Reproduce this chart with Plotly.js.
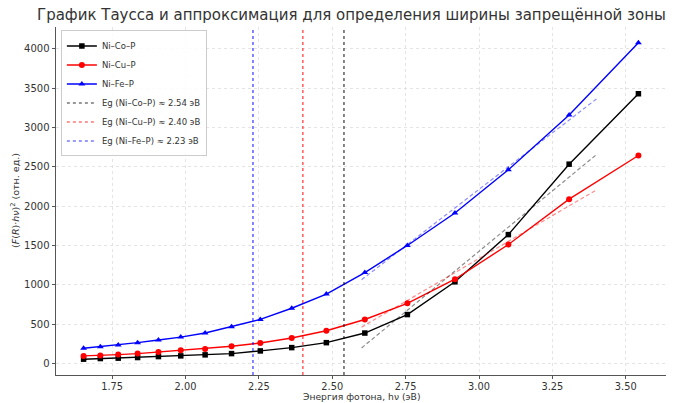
<!DOCTYPE html>
<html>
<head>
<meta charset="utf-8">
<script src="https://cdn.plot.ly/plotly-3.0.1.min.js"></script>
<style>html,body{margin:0;padding:0;background:#fff;}#chart{width:675px;height:403px;}</style>
</head>
<body>
<div id="chart"></div>
<script>
// Photon energy, eV
const hv = [1.653, 1.710, 1.771, 1.837, 1.908, 1.984, 2.067, 2.157, 2.255, 2.362, 2.480, 2.611, 2.756, 2.918, 3.100, 3.307, 3.543];
// (F(R)·hν)^2 values
const niCoP = [55, 63, 68, 76, 88, 97, 110, 126, 160, 202, 265, 387, 622, 1038, 1638, 2533, 3428];
const niCuP = [97, 101, 113, 126, 147, 169, 185, 219, 261, 324, 416, 559, 765, 1071, 1512, 2088, 2643];
const niFeP = [194, 214, 236, 265, 299, 336, 387, 466, 560, 702, 882, 1156, 1500, 1912, 2462, 3159, 4075];
// Linear fit segments
const fitX = [2.60, 3.40];
const fitCo = [198, 2654];
const fitCu = [462, 2206];
const fitFe = [1064, 3361];
// Band gaps, eV
const egCo = 2.54, egCu = 2.40, egFe = 2.23;
const yRange = [-146, 4276];
const xTicks = [1.75, 2.00, 2.25, 2.50, 2.75, 3.00, 3.25, 3.50];
const yTicks = [0, 500, 1000, 1500, 2000, 2500, 3000, 3500, 4000];
const titleText = 'График Таусса и аппроксимация для определения ширины запрещённой зоны';
const xTitle = 'Энергия фотона, hν (эВ)';
const yTitle = '(<i>F</i>(<i>R</i>)·<i>hν</i>)<sup>2</sup> (отн. ед.)';

const FONT = 'DejaVu Sans, sans-serif';
const traces = [
  {x: hv, y: niCoP, name: 'Ni–Co–P', mode: 'lines+markers', line: {color: '#000000', width: 1.4}, marker: {symbol: 'square', size: 5.5, color: '#000000'}},
  {x: hv, y: niCuP, name: 'Ni–Cu–P', mode: 'lines+markers', line: {color: '#ff0000', width: 1.4}, marker: {symbol: 'circle', size: 6, color: '#ff0000'}},
  {x: hv, y: niFeP, name: 'Ni–Fe–P', mode: 'lines+markers', line: {color: '#0000ff', width: 1.4}, marker: {symbol: 'triangle-up', size: 6, color: '#0000ff'}},
  {x: [egCo, egCo], y: yRange, name: 'Eg (Ni–Co–P) ≈ ' + egCo.toFixed(2) + ' эВ', mode: 'lines', line: {color: 'rgba(0,0,0,0.8)', width: 1.2, dash: 'dot'}},
  {x: [egCu, egCu], y: yRange, name: 'Eg (Ni–Cu–P) ≈ ' + egCu.toFixed(2) + ' эВ', mode: 'lines', line: {color: 'rgba(255,0,0,0.8)', width: 1.2, dash: 'dot'}},
  {x: [egFe, egFe], y: yRange, name: 'Eg (Ni–Fe–P) ≈ ' + egFe.toFixed(2) + ' эВ', mode: 'lines', line: {color: 'rgba(0,0,255,0.8)', width: 1.2, dash: 'dot'}},
  {x: fitX, y: fitCo, mode: 'lines', showlegend: false, line: {color: 'rgba(0,0,0,0.45)', width: 1.2, dash: '4px,2.5px'}},
  {x: fitX, y: fitCu, mode: 'lines', showlegend: false, line: {color: 'rgba(255,0,0,0.45)', width: 1.2, dash: '4px,2.5px'}},
  {x: fitX, y: fitFe, mode: 'lines', showlegend: false, line: {color: 'rgba(0,0,255,0.45)', width: 1.2, dash: '4px,2.5px'}}
];

const layout = {
  width: 675, height: 403,
  margin: {l: 56, r: 9, t: 27, b: 28},
  paper_bgcolor: '#ffffff', plot_bgcolor: '#ffffff',
  font: {family: FONT, color: '#333333', size: 10},
  title: {text: titleText, font: {family: FONT, size: 15, color: '#333333'}, x: 37/675, xref: 'container', xanchor: 'left', y: 1 - 15/403, yref: 'container', yanchor: 'middle'},
  showlegend: true,
  legend: {x: 0.008, y: 0.99, xanchor: 'left', yanchor: 'top', bgcolor: 'rgba(255,255,255,0.85)', bordercolor: '#cccccc', borderwidth: 1, font: {family: FONT, size: 8.5, color: '#333333'}, tracegroupgap: 0},
  xaxis: {
    range: [1.559, 3.637], tickvals: xTicks, ticktext: xTicks.map(v => v.toFixed(2)),
    showgrid: true, gridcolor: '#dddddd', griddash: 'dot', gridwidth: 0.8,
    showline: true, linecolor: '#555555', linewidth: 1, mirror: false,
    ticks: 'outside', ticklen: 2.5, tickcolor: '#555555', zeroline: false,
    tickfont: {family: FONT, size: 9.8, color: '#333333'},
    automargin: false
  },
  yaxis: {
    range: yRange, tickvals: yTicks,
    showgrid: true, gridcolor: '#dddddd', griddash: 'dot', gridwidth: 0.8,
    showline: true, linecolor: '#555555', linewidth: 1, mirror: false,
    ticks: 'outside', ticklen: 3.5, tickcolor: '#555555', zeroline: false,
    tickfont: {family: FONT, size: 10, color: '#333333'},
    automargin: false
  },
  annotations: [
    {text: xTitle, xref: 'paper', yref: 'paper', x: 0.5, y: (375 - 403) / 348, xanchor: 'center', yanchor: 'bottom', showarrow: false, borderpad: 0, font: {family: FONT, size: 9.2, color: '#333333'}},
    {text: yTitle, xref: 'paper', yref: 'paper', x: (15 - 56) / 610, y: 0.5, xanchor: 'center', yanchor: 'middle', textangle: -90, showarrow: false, borderpad: 0, font: {family: FONT, size: 9.5, color: '#333333'}}
  ]
};

Plotly.newPlot('chart', traces, layout, {staticPlot: true, displayModeBar: false});
</script>
</body>
</html>
